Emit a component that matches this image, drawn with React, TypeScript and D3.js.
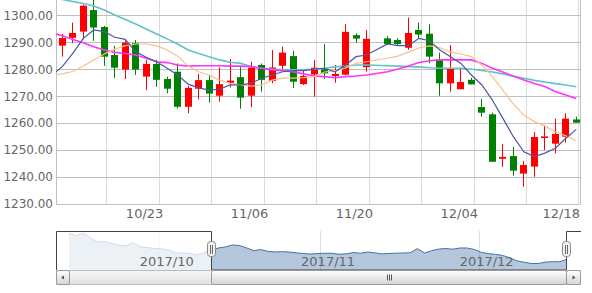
import React from 'react';
import * as d3 from 'd3';

// ---------- data ----------
// trading days shown (first entry is the day before the first visible candle)
const dates = ['10/09','10/10','10/11','10/12','10/13','10/16','10/17','10/18','10/19','10/20','10/23','10/24','10/25','10/26','10/27','10/30','10/31','11/01','11/02','11/03','11/06','11/07','11/08','11/09','11/10','11/13','11/14','11/15','11/16','11/17','11/20','11/21','11/22','11/23','11/24','11/27','11/28','11/29','11/30','12/01','12/04','12/05','12/06','12/07','12/08','12/11','12/12','12/13','12/14','12/15','12/18'];

const open = [null,1288.9,1291.8,1294.1,1302.1,1295.8,1285.4,1280.0,1289.8,1277.4,1282.1,1276.5,1279.2,1266.2,1272.9,1276.1,1270.3,1275.1,1277.2,1270.3,1281.7,1275.8,1281.4,1285.0,1274.6,1278.2,1280.1,1277.6,1278.1,1292.8,1280.9,null,1291.6,1291.0,1288.1,1294.7,1293.3,1283.8,1274.9,1272.7,1276.2,1266.1,1263.4,1246.9,1247.9,1241.4,1244.0,1254.6,1252.5,1255.1,1261.5];
const high = [null,1293.2,1297.4,1304.1,1307.0,1296.2,1288.8,1291.0,1291.0,1283.6,1283.6,1277.4,1282.3,1274.0,1278.4,1278.0,1280.8,1283.9,1281.1,1282.9,1282.3,1287.3,1288.5,1287.0,1279.6,1283.6,1289.5,1281.7,1296.9,1293.5,1294.7,null,1292.5,1291.6,1299.3,1297.4,1296.8,1286.3,1289.1,1280.2,1277.0,1269.1,1264.0,1252.4,1251.4,1246.1,1256.8,1259.1,1261.8,1263.8,1262.5];
const low = [null,1284.8,1289.8,1291.2,1290.7,1281.4,1276.9,1276.5,1278.0,1272.4,1273.6,1271.2,1265.6,1263.8,1269.0,1267.7,1268.1,1273.4,1265.5,1266.0,1271.8,1274.9,1279.9,1273.1,1274.3,1269.9,1276.5,1275.1,1277.9,1290.0,1279.2,null,1289.1,1289.1,1287.3,1291.5,1282.3,1270.3,1271.8,1272.7,1274.5,1262.5,1245.8,1243.9,1240.6,1236.5,1240.2,1250.2,1248.9,1252.9,1260.3];
const close = [null,1291.7,1293.6,1303.7,1295.6,1284.8,1280.7,1290.0,1280.0,1282.1,1276.2,1272.9,1266.2,1273.2,1276.1,1271.1,1274.6,1275.9,1269.6,1280.7,1276.2,1280.8,1286.3,1275.5,1277.6,1280.7,1278.6,1278.4,1294.0,1291.5,1291.4,null,1289.5,1289.5,1293.6,1293.0,1284.8,1274.9,1280.5,1275.4,1274.5,1264.0,1245.8,1247.6,1242.5,1244.6,1255.0,1255.2,1256.1,1261.8,1260.3];

const ma5 = [1278.0,1281.1,1286.0,1291.6,1294.7,1294.1,1292.0,1291.2,1286.6,1284.6,1282.9,1280.5,1278.0,1274.6,1273.2,1272.4,1272.7,1274.3,1274.3,1274.9,1276.8,1278.0,1279.2,1279.6,1279.6,1280.2,1280.5,1279.2,1281.7,1284.8,1285.4,null,1289.5,1288.9,1288.9,1291.6,1290.7,1287.3,1284.8,1282.3,1278.0,1274.3,1268.7,1261.9,1255.1,1249.5,1247.7,1249.0,1250.8,1254.5,1257.8];
const ma10 = [1278.0,1278.4,1279.3,1281.3,1283.6,1285.8,1287.6,1288.9,1289.5,1289.5,1288.8,1287.3,1285.0,1281.3,1279.2,1278.0,1276.1,1274.9,1274.3,1273.9,1274.3,1276.1,1276.8,1276.8,1277.0,1277.4,1279.1,1279.5,1280.6,1282.3,1282.9,null,1284.2,1285.0,1286.5,1288.0,1288.8,1288.1,1286.6,1285.8,1284.8,1281.7,1277.4,1272.4,1267.2,1263.1,1260.7,1259.1,1256.9,1255.4,1253.5];
const ma20 = [1293.5,1292.6,1291.2,1290.0,1288.5,1287.3,1286.4,1286.0,1285.4,1284.2,1282.9,1282.6,1281.7,1281.3,1281.4,1281.4,1281.4,1281.3,1281.3,1281.1,1280.5,1279.9,1279.6,1279.2,1278.4,1277.6,1277.4,1277.0,1277.4,1277.6,1278.0,null,1279.2,1280.2,1281.3,1282.6,1283.3,1283.6,1283.6,1283.6,1283.6,1282.3,1280.5,1279.1,1277.6,1276.1,1274.8,1273.7,1271.9,1270.6,1269.3];
const ma30 = [1306.6,1306.0,1305.3,1304.5,1303.6,1302.1,1300.3,1298.6,1296.9,1295.1,1293.2,1291.4,1289.5,1287.3,1286.0,1284.8,1283.6,1282.7,1282.3,1281.1,1280.5,1280.2,1279.9,1279.9,1279.9,1280.1,1280.5,1281.0,1281.3,1281.7,1281.7,null,1281.4,1281.3,1281.1,1281.0,1280.7,1280.5,1280.5,1280.5,1280.1,1279.7,1279.1,1278.4,1277.5,1276.8,1276.0,1275.4,1274.8,1274.3,1273.6];

const yTicks = [1230, 1240, 1250, 1260, 1270, 1280, 1290, 1300];
const weekTicks = ['10/16','10/23','10/30','11/06','11/13','11/20','11/27','12/04','12/11','12/18'];
const labelTicks = ['10/23','11/06','11/20','12/04','12/18'];

// navigator (full history, daily closes)
const navValues = [1324.1,1318.1,1324.1,1312.7,1302.3,1302.3,1297.9,1293.2,1291.4,1299.4,1289.3,1287.0,1284.9,1283.6,1280.8,1273.3,1273.0,1272.0,1268.1,1274.3,1280.8,1286.0,1288.8,1293.8,1292.2,1286.0,1279.2,1281.8,1277.2,1275.6,1276.4,1275.4,1273.5,1271.5,1270.4,1271.7,1272.3,1272.3,1269.7,1271.0,1274.1,1272.5,1275.4,1273.5,1270.7,1271.7,1272.5,1273.0,1273.8,1284.4,1273.0,1279.0,1283.1,1284.7,1282.9,1286.0,1286.0,1282.1,1274.6,1271.5,1269.4,1266.6,1260.6,1252.6,1249.2,1245.8,1245.8,1249.5,1250.5,1250.5,1256.2];
const navMonths = [{ label: '2017/10', pos: 12.7 }, { label: '2017/11', pos: 35.4 }, { label: '2017/12', pos: 57.7 }];
const navSelection = [20.1, 70];

const FONT = "'DejaVu Sans', Verdana, sans-serif";

export default function App() {
  const L = 56, R = 580, T = 0, B = 204.3;
  const x = d3.scaleLinear().domain([1, 50]).range([62.3, 576.3]);
  const y = d3.scaleLinear().domain([1230, 1305.83]).range([B, T]);
  const crisp = (v: number) => Math.floor(v) + 0.5;
  const tickShift = 0.25;

  const idx = dates.map((_, i) => i);
  const candles = idx.filter(i => open[i] != null);

  const mkLine = (arr: (number | null)[]) =>
    d3.line<number>()
      .x(i => x(i))
      .y(i => y(arr[i] as number))(idx.filter(i => arr[i] != null)) || '';

  // navigator
  const nT = 231, nB = 270;
  const nx = d3.scaleLinear().domain([0, navValues.length - 1]).range([69, 566.7]);
  const ny = d3.scaleLinear().domain([1229, 1330]).range([nB, nT]);
  const navArea = d3.area<number>().x((_, i) => nx(i)).y0(nB).y1(d => ny(d))(navValues) || '';
  const navLine = d3.line<number>().x((_, i) => nx(i)).y(d => ny(d))(navValues) || '';
  const selL = nx(navSelection[0]);
  const selR = nx(navSelection[1]);
  const sT = 270.5, sB = 284.5;

  const handle = (hx: number) => (
    <g>
      <rect x={Math.round(hx) - 4.5} y={241.5} width={8} height={15} rx={3} fill="#f2f2f2" stroke="#888" strokeWidth={1} />
      <line x1={Math.round(hx) - 1.5} x2={Math.round(hx) - 1.5} y1={245} y2={254} stroke="#666" strokeWidth={1} />
      <line x1={Math.round(hx) + 0.5} x2={Math.round(hx) + 0.5} y1={245} y2={254} stroke="#666" strokeWidth={1} />
    </g>
  );

  return (
    <svg width={592} height={293} style={{ position: 'absolute', left: 0, top: 0, fontFamily: FONT }}>
      <defs>
        <clipPath id="plotClip"><rect x={L} y={T} width={R - L} height={B - T} /></clipPath>
        <clipPath id="navClip"><rect x={L} y={nT} width={R - L} height={nB - nT} /></clipPath>
        <linearGradient id="sbGrad" x1="0" y1="0" x2="0" y2="1">
          <stop offset="0" stopColor="#ffffff" />
          <stop offset="1" stopColor="#d4d4d4" />
        </linearGradient>
        <linearGradient id="trackGrad" x1="0" y1="0" x2="0" y2="1">
          <stop offset="0" stopColor="#f6f6f6" />
          <stop offset="1" stopColor="#e2e2e2" />
        </linearGradient>
      </defs>
      <rect x={0} y={0} width={592} height={293} fill="#fff" />

      {/* vertical grid */}
      {weekTicks.map(d => {
        const gx = crisp(x(dates.indexOf(d) + tickShift));
        return gx < R ? <line key={d} x1={gx} x2={gx} y1={T} y2={B} stroke="#dcdcdc" strokeWidth={1} /> : null;
      })}
      {/* horizontal grid */}
      {yTicks.map(v => (
        <line key={v} x1={L} x2={R} y1={crisp(y(v))} y2={crisp(y(v))} stroke="#c0c0c0" strokeWidth={1} />
      ))}
      <line x1={L + 0.5} x2={L + 0.5} y1={T} y2={crisp(B)} stroke="#c0c0c0" />
      <line x1={R + 0.5} x2={R + 0.5} y1={T} y2={crisp(B)} stroke="#c0c0c0" />

      {/* y labels */}
      {yTicks.map(v => (
        <text key={v} x={53} y={y(v) + 4} textAnchor="end" fontSize={12} fill="#666">{v.toFixed(2)}</text>
      ))}
      {/* x labels */}
      {labelTicks.map(d => {
        const gx = x(dates.indexOf(d) + tickShift);
        return <text key={d} x={Math.min(gx + 4, R)} y={218.3} textAnchor="end" fontSize={13} fill="#666">{d}</text>;
      })}

      <g clipPath="url(#plotClip)">
        {candles.map(i => {
          const o = open[i] as number, c = close[i] as number;
          const col = c >= o ? '#ff0000' : '#008000';
          const cx = Math.round(x(i) - 3.5) + 3.5;
          const yt = y(Math.max(o, c)), yb = y(Math.min(o, c));
          return (
            <g key={i}>
              <line x1={cx} x2={cx} y1={y(high[i] as number)} y2={y(low[i] as number)} stroke={col} strokeWidth={1} />
              <rect x={cx - 3.5} y={yt} width={7} height={Math.max(1.5, yb - yt)} fill={col} />
            </g>
          );
        })}
        <path d={mkLine(ma30)} fill="none" stroke="#62c2c9" strokeWidth={1.6} />
        <path d={mkLine(ma20)} fill="none" stroke="#ff33ff" strokeWidth={1.6} />
        <path d={mkLine(ma10)} fill="none" stroke="#f9c18e" strokeWidth={1.2} />
        <path d={mkLine(ma5)} fill="none" stroke="#4a58a6" strokeWidth={1.2} />
      </g>

      {/* navigator */}
      {navMonths.map(m => (
        <line key={m.label} x1={crisp(nx(m.pos))} x2={crisp(nx(m.pos))} y1={nT} y2={nB} stroke="#dedede" />
      ))}
      <g clipPath="url(#navClip)">
        <path d={navArea} fill="#4572A7" fillOpacity={0.4} />
        <path d={navLine} fill="none" stroke="#4572A7" strokeWidth={1} />
      </g>
      <rect x={L} y={nT} width={selL - L} height={nB - nT} fill="rgba(255,255,255,0.75)" />
      <rect x={selR} y={nT} width={R - selR} height={nB - nT} fill="rgba(255,255,255,0.75)" />
      {navMonths.map(m => (
        <text key={m.label} x={nx(m.pos) + 7.4} y={265.7} textAnchor="middle" fontSize={13} fill="#666">{m.label}</text>
      ))}
      <path
        d={`M${L + 0.5},${nB} V${nT + 0.5} H${crisp(selL)} V${nB} H${crisp(selR)} V${nT + 0.5} H${R + 1}`}
        fill="none" stroke="#444" strokeWidth={1}
      />

      {/* scrollbar */}
      <rect x={L + 0.5} y={sT} width={R - L} height={sB - sT} fill="url(#trackGrad)" stroke="#bbb" />
      <rect x={crisp(selL)} y={sT} width={crisp(selR) - crisp(selL)} height={sB - sT} rx={2} fill="url(#sbGrad)" stroke="#999" />
      {[-2, 0, 2].map(o => (
        <line key={o} x1={Math.round((selL + selR) / 2) + o + 0.5} x2={Math.round((selL + selR) / 2) + o + 0.5} y1={274.5} y2={280.5} stroke="#555" />
      ))}
      <rect x={L + 0.5} y={sT} width={13} height={sB - sT} rx={2} fill="url(#sbGrad)" stroke="#999" />
      <path d={`M${L + 5},${277.5} L${L + 8},${275.5} L${L + 8},${279.5} Z`} fill="#555" />
      <rect x={crisp(selR)} y={sT} width={14} height={sB - sT} rx={2} fill="url(#sbGrad)" stroke="#999" />
      <path d={`M${crisp(selR) + 9},${277.5} L${crisp(selR) + 6},${275.5} L${crisp(selR) + 6},${279.5} Z`} fill="#555" />

      {handle(selL)}
      {handle(selR)}
    </svg>
  );
}
